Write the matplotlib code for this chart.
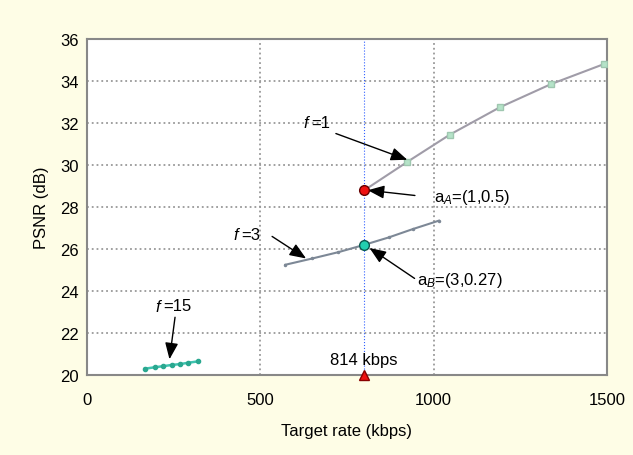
import numpy as np
import matplotlib.pyplot as plt

plt.rcParams['font.family'] = ['Liberation Sans', 'DejaVu Sans']
plt.rcParams['mathtext.fontset'] = 'custom'
plt.rcParams['mathtext.rm'] = 'Liberation Sans'
plt.rcParams['mathtext.it'] = 'Liberation Sans:italic'

# f = 1 curve
rate_f1 = [800, 924, 1047, 1191, 1338, 1490]
psnr_f1 = [28.8, 30.15, 31.45, 32.75, 33.85, 34.8]

# f = 3 curve
rate_f3 = [572, 650, 725, 800, 870, 940, 1015]
psnr_f3 = [25.25, 25.55, 25.85, 26.2, 26.55, 26.95, 27.35]

# f = 15 curve
rate_f15 = [167, 196, 219, 245, 268, 291, 320]
psnr_f15 = [20.3, 20.37, 20.42, 20.48, 20.52, 20.58, 20.65]

target = 800
point_a = (800, 28.8)
point_b = (800, 26.2)

bg = '#fefde6'
fig = plt.figure(figsize=(6.33, 4.56), dpi=100, facecolor=bg)
ax = fig.add_axes([0.1374, 0.1754, 0.8215, 0.7368])
ax.set_facecolor('white')

ax.plot(rate_f1, psnr_f1, color='#a09ca8', lw=1.5, marker='s', ms=5,
        mfc='#b5e3c8', mec='#9fc7b0', zorder=3)
ax.plot(rate_f3, psnr_f3, color='#7d8896', lw=1.5, marker='.', ms=3,
        zorder=3)
ax.plot(rate_f15, psnr_f15, color='#3fc4b0', lw=1.8, marker='o', ms=3,
        mfc='#2aa890', mec='#2aa890', zorder=3)

ax.axvline(target, color='#3060ff', lw=0.8, ls=':', zorder=2)
ax.plot(*point_a, 'o', ms=7, mfc='#ee1111', mec='#660000', zorder=5)
ax.plot(*point_b, 'o', ms=7, mfc='#22d0b0', mec='#0b5a50', zorder=5)
ax.plot(target, 20, '^', ms=7, mfc='#ee1111', mec='#880000', zorder=6,
        clip_on=False)

arrow = dict(arrowstyle='-|>,head_length=1.0,head_width=0.4', color='black',
             lw=1, shrinkA=0, shrinkB=0)
fs = 12

ax.annotate('', xy=(924, 30.25), xytext=(718, 31.5), arrowprops=arrow)
ax.text(622, 31.8, r'$f$', fontsize=fs)
ax.text(648, 31.8, '=1', fontsize=fs)

ax.annotate('', xy=(810, 28.8), xytext=(946, 28.55), arrowprops=arrow)
ax.text(1000, 28.5, r'a$_{A}$=(1,0.5)', fontsize=fs, va='center')

ax.annotate('', xy=(632, 25.55), xytext=(534, 26.6), arrowprops=arrow)
ax.text(420, 26.7, r'$f$', fontsize=fs, va='center')
ax.text(446, 26.7, '=3', fontsize=fs, va='center')

ax.annotate('', xy=(815, 26.05), xytext=(945, 24.6), arrowprops=arrow)
ax.text(952, 24.57, r'a$_{B}$=(3,0.27)', fontsize=fs, va='center')

ax.annotate('', xy=(238, 20.75), xytext=(254, 22.75), arrowprops=arrow)
ax.text(195, 23.3, r'$f$', fontsize=fs, va='center')
ax.text(220, 23.3, '=15', fontsize=fs, va='center')

ax.text(700, 20.75, '814 kbps', fontsize=fs, va='center')

ax.set_xlim(0, 1500)
ax.set_ylim(20, 36)
ax.set_xticks([0, 500, 1000, 1500])
ax.set_yticks(np.arange(20, 37, 2))
ax.grid(True, color='#999999', ls=':', lw=1.3)
ax.tick_params(length=0, labelsize=fs)
ax.tick_params(axis='x', pad=12)
ax.tick_params(axis='y', pad=6)
for s in ax.spines.values():
    s.set_color('#888888')
    s.set_linewidth(1.5)

ax.set_xlabel('Target rate (kbps)', fontsize=fs, labelpad=12)
ax.set_ylabel('PSNR (dB)', fontsize=fs, labelpad=8)

fig.savefig('out.png', dpi=100, facecolor=bg)
